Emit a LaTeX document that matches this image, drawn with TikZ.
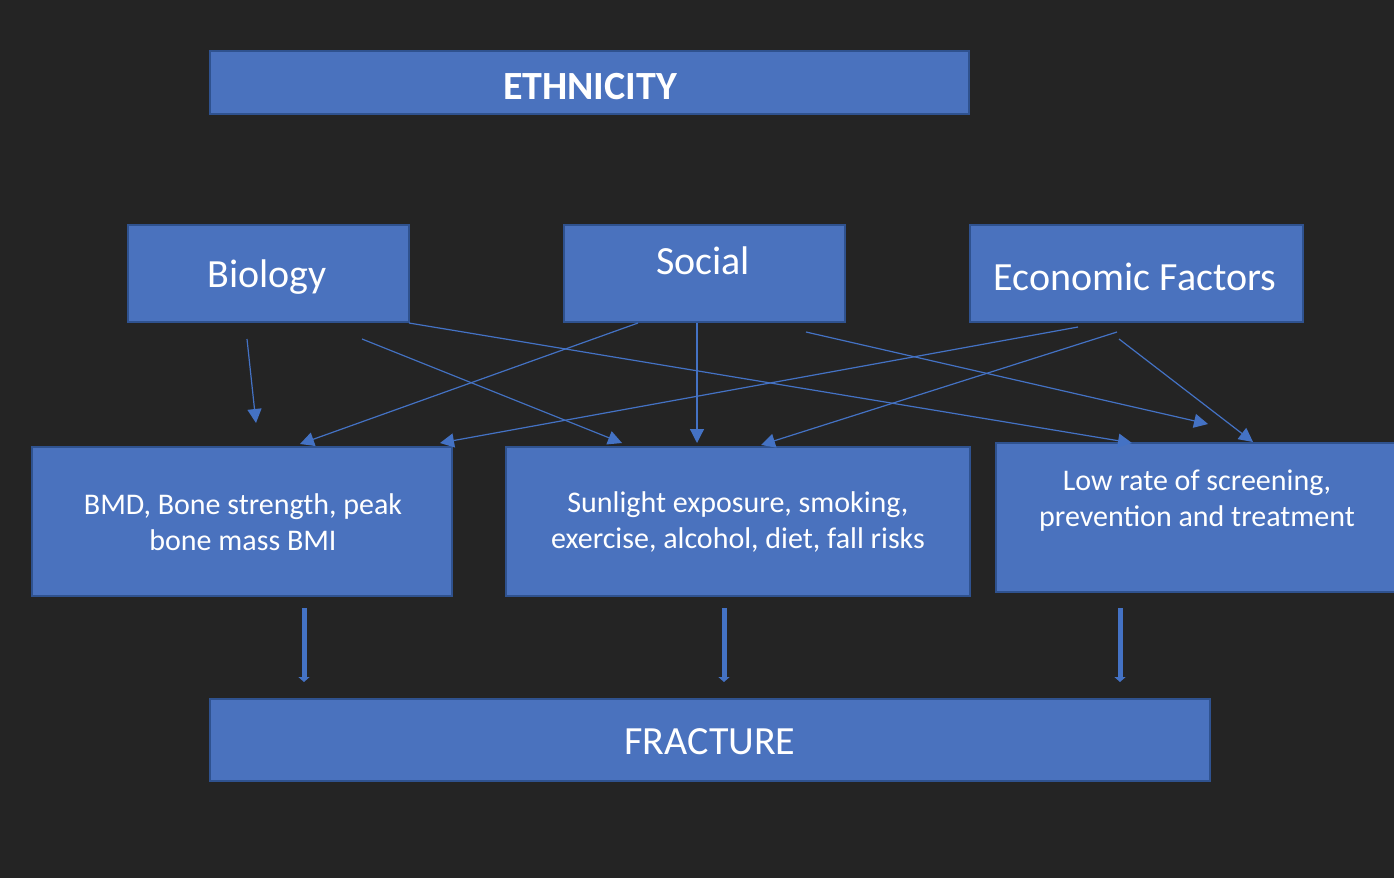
\documentclass[tikz,border=0pt]{standalone}
\usepackage{fontspec}
\setmainfont{Carlito}
\usetikzlibrary{arrows.meta}
\definecolor{bg}{HTML}{242424}
\definecolor{boxfill}{HTML}{4A72BE}
\definecolor{boxline}{HTML}{2F528F}
\definecolor{arr}{HTML}{4472C4}
\tikzset{
  box/.style={draw=boxline, line width=2pt, fill=boxfill, text=white, align=center},
  big/.style={text=white, font=\fontsize{40}{44}\selectfont},
  body/.style={text=white, align=center, font=\fontsize{30}{36}\selectfont},
  thin/.style={draw=arr, line width=1.2pt, -{Triangle[length=14pt,width=14pt]}},
  thick/.style={draw=arr, line width=5pt, -{Triangle[length=5pt,width=11pt]}}
}
\begin{document}
\begin{tikzpicture}[x=1pt,y=-1pt]
\fill[bg] (0,0) rectangle (1394,878);
\useasboundingbox (0,0) rectangle (1394,878);
% boxes
\draw[box] (210,51) rectangle (969,114);
\node[big, font=\fontsize{40}{44}\selectfont\bfseries] (eth) at (590,87) {ETHNICITY};
\draw[box] (128,225) rectangle (409,322);
\node[big] (bio) at (267,277) {Biology};
\draw[box] (564,225) rectangle (845,322);
\node[big] (soc) at (703,261) {Social};
\draw[box] (970,225) rectangle (1303,322);
\node[big] (eco) at (1135,277) {Economic Factors};
\draw[box] (32,447) rectangle (452,596);
\node[body] (bmd) at (243,522) {BMD, Bone strength, peak\\bone mass BMI};
\draw[box] (506,447) rectangle (970,596);
\node[body] (sun) at (738,522) {Sunlight exposure, smoking,\\exercise, alcohol, diet, fall risks};
\draw[box] (996,443) rectangle (1400,592);
\node[body] (low) at (1197,501) {Low rate of screening,\\prevention and treatment};
\draw[box] (210,699) rectangle (1210,781);
\node[big] (fra) at (710,742) {FRACTURE};
% coordinates for connectors
\coordinate (a1s) at (247,339); \coordinate (a1e) at (256,423);
\coordinate (a2s) at (362,339); \coordinate (a2e) at (622,443);
\coordinate (a3s) at (409,323); \coordinate (a3e) at (1132,443);
\coordinate (a4s) at (638,323); \coordinate (a4e) at (300,444);
\coordinate (a5s) at (697,323); \coordinate (a5e) at (697,443);
\coordinate (a6s) at (806,332); \coordinate (a6e) at (1208,424);
\coordinate (a7s) at (1078,327); \coordinate (a7e) at (440,443);
\coordinate (a8s) at (1117,332); \coordinate (a8e) at (761,445);
\coordinate (a9s) at (1119,339); \coordinate (a9e) at (1253,442);
\foreach \i in {1,...,9} { \draw[thin] (a\i s) -- (a\i e); }
\coordinate (b1s) at (304,608); \coordinate (b1e) at (304,682);
\coordinate (b2s) at (724,608); \coordinate (b2e) at (724,682);
\coordinate (b3s) at (1120,608); \coordinate (b3e) at (1120,682);
\foreach \i in {1,2,3} { \draw[thick] (b\i s) -- (b\i e); }
\end{tikzpicture}
\end{document}
